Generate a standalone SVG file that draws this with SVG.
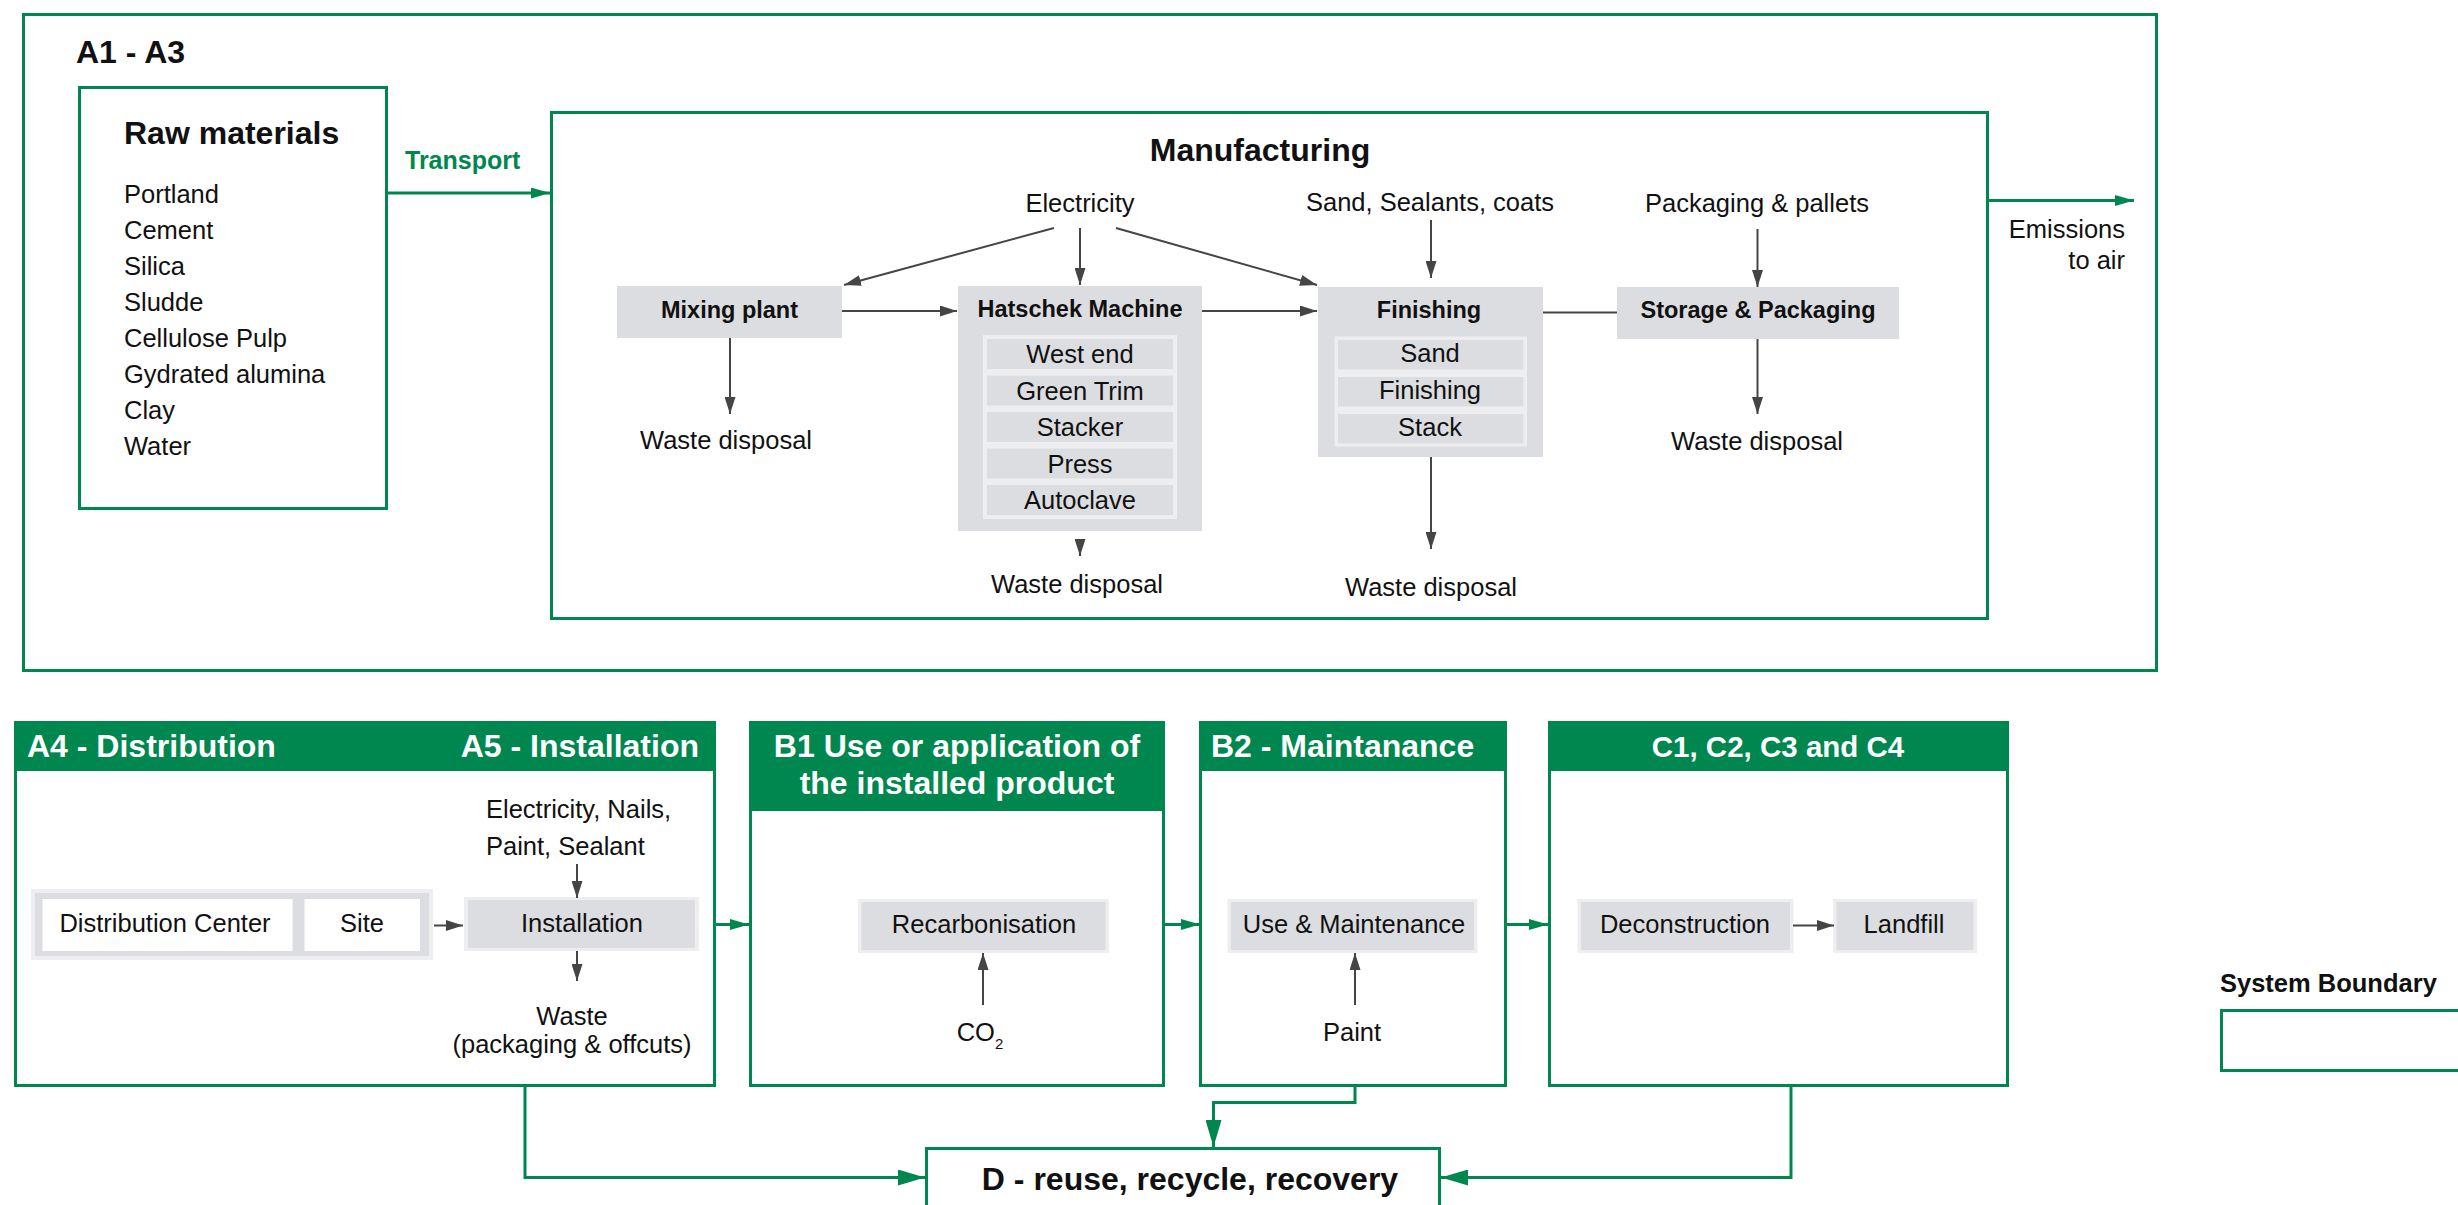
<svg xmlns="http://www.w3.org/2000/svg" width="2458" height="1205" viewBox="0 0 2458 1205">
<style>
text{font-family:"Liberation Sans",Arial,sans-serif;fill:#111}
.t{font-size:25.5px}
.tc{font-size:25.5px;text-anchor:middle}
.b{font-size:23.5px;font-weight:bold;text-anchor:middle}
.h{font-size:32px;font-weight:bold}
.hw{font-size:32px;font-weight:bold;fill:#fff}
.gb{fill:none;stroke:#00874f;stroke-width:3}
.gh{fill:#00874f}
.proc{fill:#dcdde0}
.frame{fill:#eeeef0}
.white{fill:#fff}
.ga{stroke:#454545;stroke-width:2;fill:none;marker-end:url(#ag)}
.gr{stroke:#00874f;stroke-width:3;fill:none;marker-end:url(#agr)}
.grL{stroke:#00874f;stroke-width:3;fill:none;marker-end:url(#agrL)}
</style>
<defs>
<marker id="ag" markerUnits="userSpaceOnUse" markerWidth="17" markerHeight="11" refX="17" refY="5.5" orient="auto"><path d="M0,0 L17,5.5 L0,11 z" fill="#454545"/></marker>
<marker id="agr" markerUnits="userSpaceOnUse" markerWidth="19" markerHeight="11" refX="19" refY="5.5" orient="auto"><path d="M0,0 L19,5.5 L0,11 z" fill="#00874f"/></marker>
<marker id="agrL" markerUnits="userSpaceOnUse" markerWidth="27" markerHeight="16" refX="27" refY="8" orient="auto"><path d="M0,0 L27,8 L0,16 z" fill="#00874f"/></marker>
</defs>
<rect width="2458" height="1205" fill="#fff"/>

<g id="a1a3">
<rect class="gb" x="23.5" y="14.5" width="2133" height="656"/>
<text class="h" x="76" y="63">A1 - A3</text>
</g>

<g id="raw-materials">
<rect class="gb" x="79.5" y="87.5" width="307" height="421"/>
<text class="h" x="124" y="144">Raw materials</text>
<text class="t" x="124" y="203">Portland</text>
<text class="t" x="124" y="239">Cement</text>
<text class="t" x="124" y="275">Silica</text>
<text class="t" x="124" y="311">Sludde</text>
<text class="t" x="124" y="347">Cellulose Pulp</text>
<text class="t" x="124" y="383">Gydrated alumina</text>
<text class="t" x="124" y="419">Clay</text>
<text class="t" x="124" y="455">Water</text>
</g>

<g id="manufacturing">
<rect class="gb" x="551.5" y="112.5" width="1436" height="506"/>
<text class="h" x="1260" y="161" text-anchor="middle">Manufacturing</text>
</g>

<g id="electricity"><text class="tc" x="1080" y="212">Electricity</text></g>
<g id="sand-sealants"><text class="tc" x="1430" y="211">Sand, Sealants, coats</text></g>
<g id="packaging-pallets"><text class="tc" x="1757" y="212">Packaging &amp; pallets</text></g>

<g id="mixing-plant">
<rect class="proc" x="617" y="286" width="225" height="52"/>
<text class="b" x="729.5" y="318">Mixing plant</text>
</g>
<g id="waste-mixing"><text class="tc" x="726" y="449">Waste disposal</text></g>

<g id="hatschek">
<rect class="proc" x="958" y="286" width="244" height="245"/>
<text class="b" x="1080" y="317">Hatschek Machine</text>
<rect class="frame" x="983" y="335" width="194" height="184"/>
<rect class="proc" x="987" y="339" width="186" height="30"/>
<rect class="proc" x="987" y="375.5" width="186" height="30"/>
<rect class="proc" x="987" y="412" width="186" height="30"/>
<rect class="proc" x="987" y="448.5" width="186" height="30"/>
<rect class="proc" x="987" y="485" width="186" height="30"/>
<text class="tc" x="1080" y="363">West end</text>
<text class="tc" x="1080" y="400">Green Trim</text>
<text class="tc" x="1080" y="436">Stacker</text>
<text class="tc" x="1080" y="472.5">Press</text>
<text class="tc" x="1080" y="508.5">Autoclave</text>
</g>
<g id="waste-hatschek"><text class="tc" x="1077" y="593">Waste disposal</text></g>

<g id="finishing">
<rect class="proc" x="1318" y="287" width="225" height="170"/>
<text class="b" x="1429" y="318">Finishing</text>
<rect class="frame" x="1334.5" y="336.5" width="192.5" height="110"/>
<rect class="proc" x="1338" y="340" width="185.5" height="29.5"/>
<rect class="proc" x="1338" y="377" width="185.5" height="29.5"/>
<rect class="proc" x="1338" y="414" width="185.5" height="29.5"/>
<text class="tc" x="1430" y="362">Sand</text>
<text class="tc" x="1430" y="399">Finishing</text>
<text class="tc" x="1430" y="436">Stack</text>
</g>
<g id="waste-finishing"><text class="tc" x="1431" y="596">Waste disposal</text></g>

<g id="storage-packaging">
<rect class="proc" x="1617" y="287" width="282" height="52"/>
<text class="b" x="1758" y="318">Storage &amp; Packaging</text>
</g>
<g id="waste-storage"><text class="tc" x="1757" y="450">Waste disposal</text></g>

<g id="emissions">
<text class="t" x="2125" y="238" text-anchor="end">Emissions</text>
<text class="t" x="2125" y="269" text-anchor="end">to air</text>
</g>

<g id="transport-label"><text x="405" y="169" style="font-size:25px;font-weight:bold;fill:#00874f">Transport</text></g>

<g id="a4-a5">
<rect class="gh" x="14" y="721" width="702" height="50"/>
<rect class="gb" x="15.5" y="722.5" width="699" height="363"/>
<text class="hw" x="27" y="757">A4 - Distribution</text>
<text class="hw" x="699" y="757" text-anchor="end">A5 - Installation</text>
</g>
<g id="distribution">
<rect class="frame" x="31" y="889" width="402" height="71"/>
<rect x="35" y="893" width="394" height="63" fill="#dcdde0"/>
<rect class="white" x="42.5" y="899" width="250" height="52"/>
<rect class="white" x="304.5" y="899" width="115.5" height="52"/>
<text class="tc" x="165" y="932">Distribution Center</text>
<text class="tc" x="362" y="932">Site</text>
</g>
<g id="installation-inputs">
<text class="t" x="486" y="818">Electricity, Nails,</text>
<text class="t" x="486" y="855">Paint, Sealant</text>
</g>
<g id="installation">
<rect class="frame" x="464" y="897" width="235" height="54"/>
<rect class="proc" x="468" y="900" width="227" height="48"/>
<text class="tc" x="582" y="932">Installation</text>
</g>
<g id="installation-waste">
<text class="tc" x="572" y="1025">Waste</text>
<text class="tc" x="572" y="1053">(packaging &amp; offcuts)</text>
</g>

<g id="b1">
<rect class="gh" x="749" y="721" width="416" height="90"/>
<rect class="gb" x="750.5" y="722.5" width="413" height="363"/>
<text class="hw" x="957" y="757" text-anchor="middle">B1 Use or application of</text>
<text class="hw" x="957" y="794" text-anchor="middle">the installed product</text>
</g>
<g id="recarbonisation">
<rect class="frame" x="858" y="899" width="251" height="54"/>
<rect class="proc" x="861.5" y="902" width="244" height="48"/>
<text class="tc" x="984" y="933">Recarbonisation</text>
</g>
<g id="co2">
<text class="t" x="980" y="1041" text-anchor="middle">CO<tspan dy="8" style="font-size:15px">2</tspan></text>
</g>

<g id="b2">
<rect class="gh" x="1199" y="721" width="308" height="50"/>
<rect class="gb" x="1200.5" y="722.5" width="305" height="363"/>
<text class="hw" x="1211" y="757">B2 - Maintanance</text>
</g>
<g id="use-maintenance">
<rect class="frame" x="1227.5" y="899" width="250" height="54"/>
<rect class="proc" x="1231" y="902" width="243" height="48"/>
<text class="tc" x="1354" y="933">Use &amp; Maintenance</text>
</g>
<g id="paint"><text class="tc" x="1352" y="1041">Paint</text></g>

<g id="c1-c4">
<rect class="gh" x="1548" y="721" width="461" height="50"/>
<rect class="gb" x="1549.5" y="722.5" width="458" height="363"/>
<text class="hw" x="1778" y="757" text-anchor="middle" style="font-size:29.5px">C1, C2, C3 and C4</text>
</g>
<g id="deconstruction">
<rect class="frame" x="1577.5" y="899" width="216" height="54"/>
<rect class="proc" x="1581" y="902" width="209" height="48"/>
<text class="tc" x="1685" y="933">Deconstruction</text>
</g>
<g id="landfill">
<rect class="frame" x="1833" y="899" width="144" height="54"/>
<rect class="proc" x="1836.5" y="902" width="137" height="48"/>
<text class="tc" x="1904" y="933">Landfill</text>
</g>

<g id="d">
<rect class="gb" x="926.5" y="1148.5" width="513" height="80"/>
<text class="h" x="1190" y="1190" text-anchor="middle">D - reuse, recycle, recovery</text>
</g>

<g id="legend">
<text x="2220" y="992" style="font-size:25.5px;font-weight:bold">System Boundary</text>
<rect class="gb" x="2221.5" y="1010.5" width="260" height="60"/>
</g>

<g id="connectors">
<line class="gr" x1="386" y1="193" x2="550" y2="193"/>
<line class="gr" x1="1988" y1="200.5" x2="2134" y2="200.5"/>
<line class="ga" x1="1054" y1="228" x2="844" y2="285"/>
<line class="ga" x1="1080" y1="228" x2="1080" y2="285"/>
<line class="ga" x1="1116" y1="228" x2="1317" y2="285"/>
<line class="ga" x1="1431" y1="220" x2="1431" y2="278"/>
<line class="ga" x1="1757.5" y1="229" x2="1757.5" y2="287"/>
<line class="ga" x1="842" y1="311" x2="957" y2="311"/>
<line class="ga" x1="1202" y1="311" x2="1317" y2="311"/>
<line x1="1543" y1="312.5" x2="1617" y2="312.5" stroke="#454545" stroke-width="2"/>
<line class="ga" x1="730" y1="338" x2="730" y2="414"/>
<line class="ga" x1="1080" y1="540" x2="1080" y2="556"/>
<line class="ga" x1="1431" y1="457" x2="1431" y2="549"/>
<line class="ga" x1="1757.5" y1="339" x2="1757.5" y2="414"/>
<line class="ga" x1="434" y1="925.5" x2="463" y2="925.5"/>
<line class="ga" x1="577" y1="864" x2="577" y2="898"/>
<line class="ga" x1="577" y1="951" x2="577" y2="981"/>
<line class="ga" x1="983" y1="1005" x2="983" y2="953"/>
<line class="ga" x1="1355" y1="1005" x2="1355" y2="953"/>
<line class="ga" x1="1793" y1="925.5" x2="1834" y2="925.5"/>
<line class="gr" x1="716" y1="924.5" x2="749" y2="924.5"/>
<line class="gr" x1="1165" y1="924.5" x2="1200" y2="924.5"/>
<line class="gr" x1="1507" y1="924.5" x2="1548" y2="924.5"/>
<polyline class="grL" points="525,1086 525,1177.5 925,1177.5"/>
<polyline class="grL" points="1355,1086 1355,1102.5 1213.5,1102.5 1213.5,1147"/>
<polyline class="grL" points="1791,1086 1791,1177.5 1441,1177.5"/>
</g>
</svg>
